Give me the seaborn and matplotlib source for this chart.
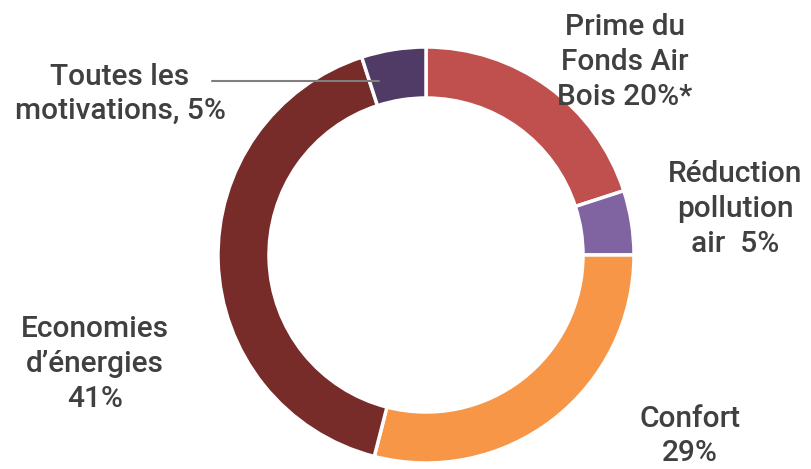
import matplotlib
matplotlib.use("Agg")
import matplotlib.pyplot as plt
import seaborn as sns

sns.set_theme(style="white")
plt.rcParams['font.family'] = ['Roboto', 'DejaVu Sans']

categories = ["Prime du\nFonds Air\nBois 20%*", "Réduction\npollution\nair  5%", "Confort\n29%",
              "Economies\nd’énergies\n41%", "Toutes les\nmotivations, 5%"]
values = [20, 5, 29, 41, 5]
colors = ["#C0504D", "#8064A2", "#F79646", "#772C2A", "#4F3B66"]

W, H = 811, 469
fig = plt.figure(figsize=(W / 100, H / 100), dpi=100)
ax = fig.add_axes([0, 0, 1, 1])

cx, cy, R = 426, H - 255, 208
ax.pie(values, colors=colors, startangle=90, counterclock=False, center=(cx, cy), radius=R,
       wedgeprops=dict(width=51, edgecolor="white", linewidth=2.5), frame=True)
ax.set_xlim(0, W)
ax.set_ylim(0, H)
ax.axis("off")

label_pos = [(625, 62), (735, 209), (690, 436), (95, 364), (120, 94)]
for text, (x, y) in zip(categories, label_pos):
    ax.text(x, H - y, text, ha="center", va="center", fontsize=21.5, color="#404040",
            fontweight="medium", linespacing=1.3)

ax.plot([212, 379], [H - 81, H - 81], color="#7F7F7F", lw=1.5)

fig.savefig("out.png", dpi=100)
